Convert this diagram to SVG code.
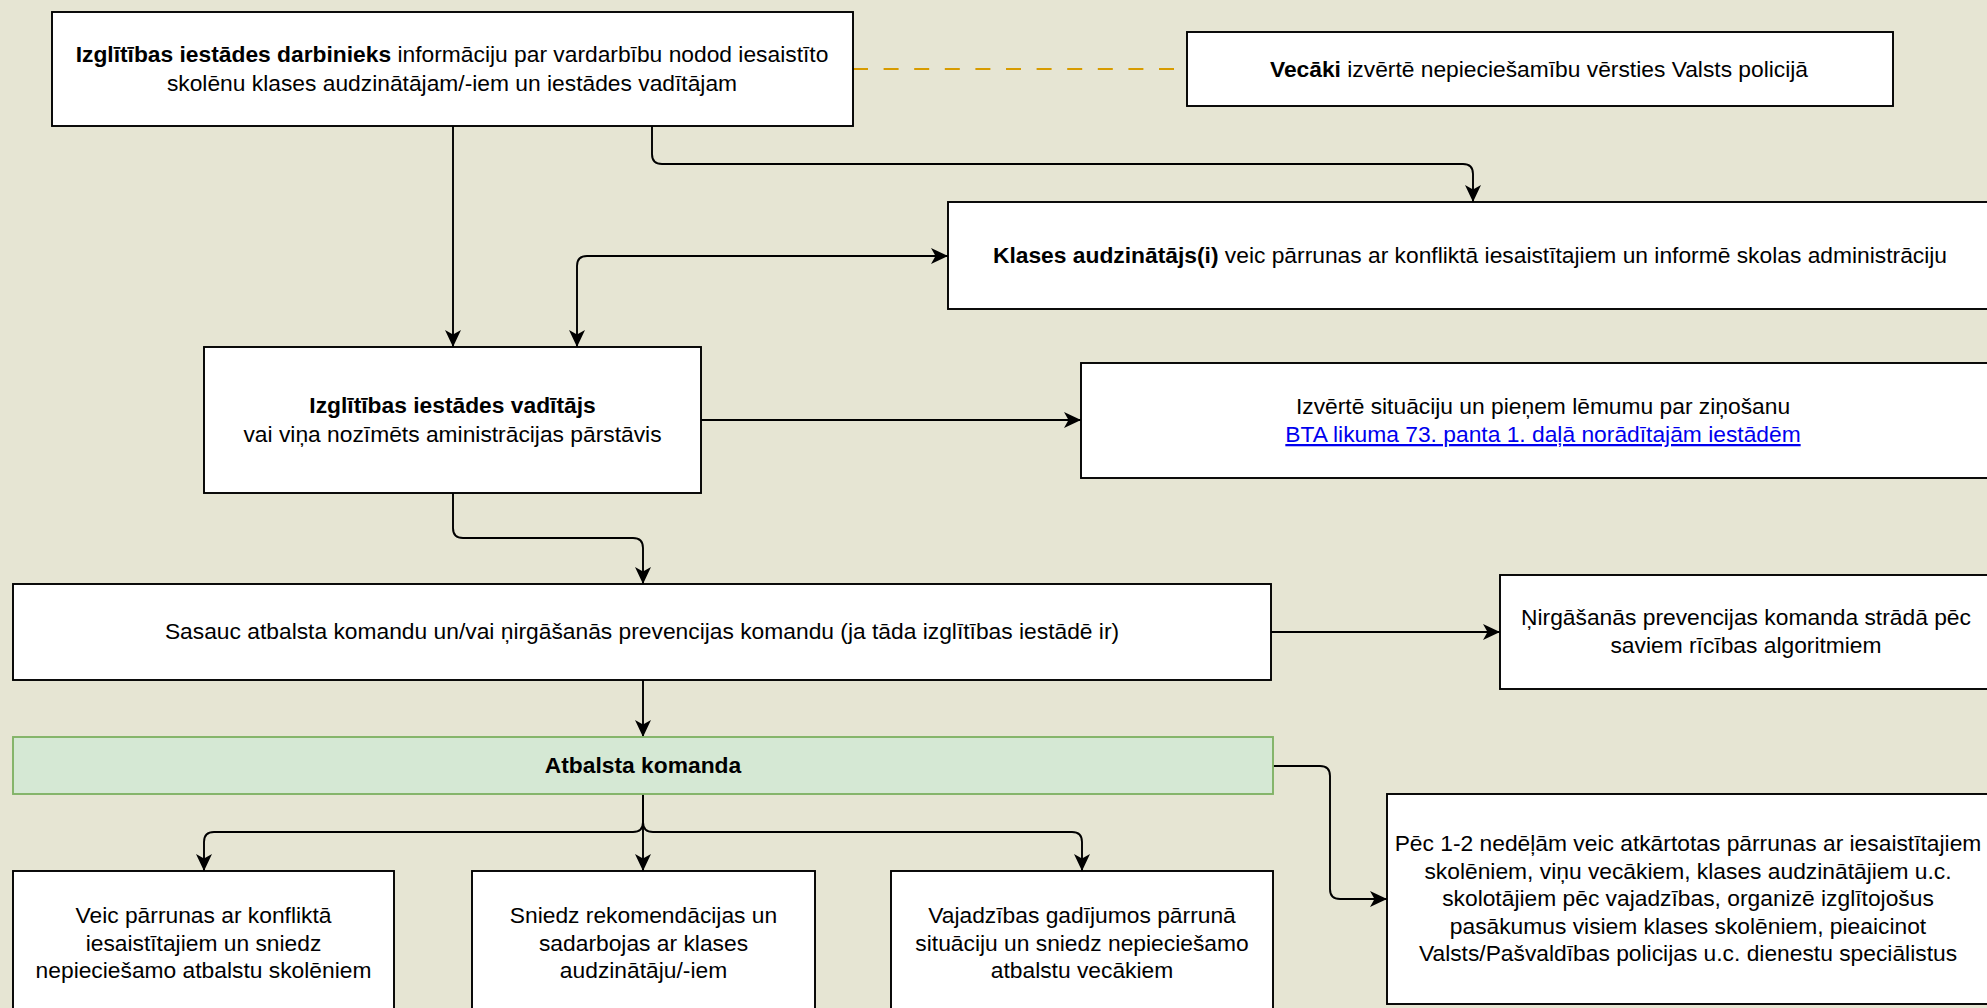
<svg xmlns="http://www.w3.org/2000/svg" width="1987" height="1008" viewBox="0 0 1987 1008">
<style>
.bg{fill:#e6e5d3}
.box{fill:#ffffff;stroke:#000000;stroke-width:1.9}
.green{fill:#d5e8d4;stroke:#82b366;stroke-width:1.9}
.t{font-family:"Liberation Sans",Arial,Helvetica,sans-serif;font-size:22.8px;fill:#000000;text-anchor:middle}
.b{font-weight:bold}
.link{fill:#0000ee;text-decoration:underline}
.c{fill:none;stroke:#000000;stroke-width:1.9}
.dash{fill:none;stroke:#d79b00;stroke-width:1.9;stroke-dasharray:15 15.6}
</style>
<defs>
<marker id="arr" markerUnits="userSpaceOnUse" viewBox="0 0 17 16" refX="17" refY="8" markerWidth="17" markerHeight="16" orient="auto-start-reverse">
<path d="M0,0 L17,8 L0,16 L4.5,8 Z" fill="#000000"/>
</marker>
</defs>
<rect class="bg" x="0" y="0" width="1987" height="1008"/>

<g id="connectors">
<line class="dash" x1="853" y1="69" x2="1175" y2="69"/>
<path class="c" d="M453,126 L453,347" marker-end="url(#arr)"/>
<path class="c" d="M652,126 L652,154 Q652,164 662,164 L1463,164 Q1473,164 1473,174 L1473,202" marker-end="url(#arr)"/>
<path class="c" d="M577,347 L577,266 Q577,256 587,256 L948,256" marker-start="url(#arr)" marker-end="url(#arr)"/>
<path class="c" d="M701,420 L1081,420" marker-end="url(#arr)"/>
<path class="c" d="M453,493 L453,528 Q453,538 463,538 L633,538 Q643,538 643,548 L643,584" marker-end="url(#arr)"/>
<path class="c" d="M643,680 L643,737" marker-end="url(#arr)"/>
<path class="c" d="M1271,632 L1500,632" marker-end="url(#arr)"/>
<path class="c" d="M643,794 L643,822 Q643,832 633,832 L214,832 Q204,832 204,842 L204,871" marker-end="url(#arr)"/>
<path class="c" d="M643,794 L643,871" marker-end="url(#arr)"/>
<path class="c" d="M643,794 L643,822 Q643,832 653,832 L1072,832 Q1082,832 1082,842 L1082,871" marker-end="url(#arr)"/>
<path class="c" d="M1273,766 L1320,766 Q1330,766 1330,776 L1330,889 Q1330,899 1340,899 L1387,899" marker-end="url(#arr)"/>
</g>

<g id="node-darbinieks">
<rect class="box" x="52" y="12" width="801" height="114"/>
<text class="t" x="452" y="62"><tspan class="b">Izglītības iestādes darbinieks</tspan> informāciju par vardarbību nodod iesaistīto</text>
<text class="t" x="452" y="91">skolēnu klases audzinātājam/-iem un iestādes vadītājam</text>
</g>

<g id="node-vecaki">
<rect class="box" x="1187" y="32" width="706" height="74"/>
<text class="t" x="1539" y="77"><tspan class="b">Vecāki</tspan> izvērtē nepieciešamību vērsties Valsts policijā</text>
</g>

<g id="node-klases">
<rect class="box" x="948" y="202" width="1043" height="107"/>
<text class="t" x="1470" y="263"><tspan class="b">Klases audzinātājs(i)</tspan> veic pārrunas ar konfliktā iesaistītajiem un informē skolas administrāciju</text>
</g>

<g id="node-vaditajs">
<rect class="box" x="204" y="347" width="497" height="146"/>
<text class="t b" x="452.5" y="413">Izglītības iestādes vadītājs</text>
<text class="t" x="452.5" y="442">vai viņa nozīmēts aministrācijas pārstāvis</text>
</g>

<g id="node-izverte">
<rect class="box" x="1081" y="363" width="924" height="115"/>
<text class="t" x="1543" y="414">Izvērtē situāciju un pieņem lēmumu par ziņošanu</text>
<text class="t link" x="1543" y="442">BTA likuma 73. panta 1. daļā norādītajām iestādēm</text>
</g>

<g id="node-sasauc">
<rect class="box" x="13" y="584" width="1258" height="96"/>
<text class="t" x="642" y="639">Sasauc atbalsta komandu un/vai ņirgāšanās prevencijas komandu (ja tāda izglītības iestādē ir)</text>
</g>

<g id="node-nirgasanas">
<rect class="box" x="1500" y="575" width="492" height="114"/>
<text class="t" x="1746" y="625">Ņirgāšanās prevencijas komanda strādā pēc</text>
<text class="t" x="1746" y="653">saviem rīcības algoritmiem</text>
</g>

<g id="node-atbalsta">
<rect class="green" x="13" y="737" width="1260" height="57"/>
<text class="t b" x="643" y="773">Atbalsta komanda</text>
</g>

<g id="node-skoleniem">
<rect class="box" x="13" y="871" width="381" height="150"/>
<text class="t" x="203.5" y="923">Veic pārrunas ar konfliktā</text>
<text class="t" x="203.5" y="950.6">iesaistītajiem un sniedz</text>
<text class="t" x="203.5" y="978.2">nepieciešamo atbalstu skolēniem</text>
</g>

<g id="node-rekomendacijas">
<rect class="box" x="472" y="871" width="343" height="150"/>
<text class="t" x="643.5" y="923">Sniedz rekomendācijas un</text>
<text class="t" x="643.5" y="950.6">sadarbojas ar klases</text>
<text class="t" x="643.5" y="978.2">audzinātāju/-iem</text>
</g>

<g id="node-vecakiem">
<rect class="box" x="891" y="871" width="382" height="150"/>
<text class="t" x="1082" y="923">Vajadzības gadījumos pārrunā</text>
<text class="t" x="1082" y="950.6">situāciju un sniedz nepieciešamo</text>
<text class="t" x="1082" y="978.2">atbalstu vecākiem</text>
</g>

<g id="node-pec">
<rect class="box" x="1387" y="794" width="604" height="210"/>
<text class="t" x="1688" y="851">Pēc 1-2 nedēļām veic atkārtotas pārrunas ar iesaistītajiem</text>
<text class="t" x="1688" y="878.6">skolēniem, viņu vecākiem, klases audzinātājiem u.c.</text>
<text class="t" x="1688" y="906.2">skolotājiem pēc vajadzības, organizē izglītojošus</text>
<text class="t" x="1688" y="933.8">pasākumus visiem klases skolēniem, pieaicinot</text>
<text class="t" x="1688" y="961.4">Valsts/Pašvaldības policijas u.c. dienestu speciālistus</text>
</g>
</svg>
